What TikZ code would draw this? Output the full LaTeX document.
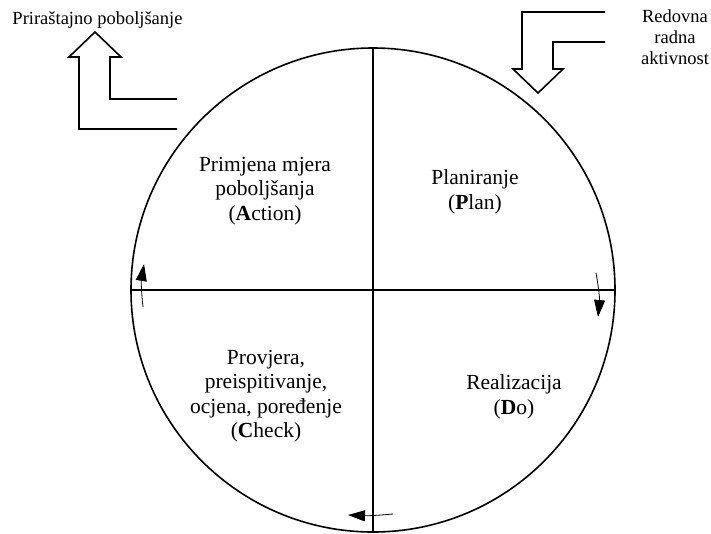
\documentclass[tikz,border=0pt]{standalone}
\usepackage{fontspec}
\setmainfont{Liberation Serif}
\usetikzlibrary{arrows.meta}
\begin{document}
\begin{tikzpicture}[x=1pt,y=-1pt,
  thick line/.style={line width=1.6pt},
  outline arrow/.style={line width=1.6pt, line join=miter},
  turn arrow/.style={line width=0.8pt, -{Triangle[length=17pt,width=11pt]}},
  quadtext/.style={align=center, font=\fontsize{21.5}{24.5}\selectfont, inner sep=0pt},
  sidetext/.style={align=center, font=\fontsize{18.5}{21}\selectfont, inner sep=0pt}]
\useasboundingbox (0,0) rectangle (711,533);

% the PDCA cycle with its four quadrants
\node[circle, draw, thick line, minimum size=484pt, inner sep=0pt, outer sep=0pt] (cyc) at (373,290) {};
\draw[thick line] (cyc.north) -- (cyc.south);
\draw[thick line] (cyc.west) -- (cyc.east);

\node[quadtext] (act) at (265,191) {Primjena mjera\\poboljšanja\\(\textbf{A}ction)};
\node[quadtext] (plan) at (475,192) {Planiranje\\(\textbf{P}lan)};
\node[quadtext] (do) at (514,397) {Realizacija\\(\textbf{D}o)};
\node[quadtext] (chk) at (266,396) {Provjera,\\preispitivanje,\\ocjena, poređenje\\(\textbf{C}heck)};

% direction of rotation
\coordinate (r1) at (596,273); \coordinate (r2) at (598,317);
\coordinate (b1) at (393,514); \coordinate (b2) at (348,515);
\coordinate (l1) at (143,307); \coordinate (l2) at (144,264);
\draw[turn arrow] (r1) to[bend left=8] (r2);
\draw[turn arrow] (b1) to[bend left=4] (b2);
\draw[turn arrow] (l1) to[bend left=8] (l2);

% input: regular work activity
\draw[outline arrow] (605,12) -- (522,12) -- (522,69) -- (513,69) -- (538,93)
  -- (563,69) -- (553,69) -- (553,42) -- (605,42);
\node[sidetext] (redovna) at (675,37) {Redovna\\radna\\aktivnost};

% output: incremental improvement
\node[sidetext, anchor=base] (prir) at (97.5,24) {Priraštajno poboljšanje};
\draw[outline arrow] (177,99) -- (110,99) -- (110,57) -- (121,57) -- (95,32)
  -- (69,57) -- (79,57) -- (79,129) -- (177,129);
\end{tikzpicture}
\end{document}
